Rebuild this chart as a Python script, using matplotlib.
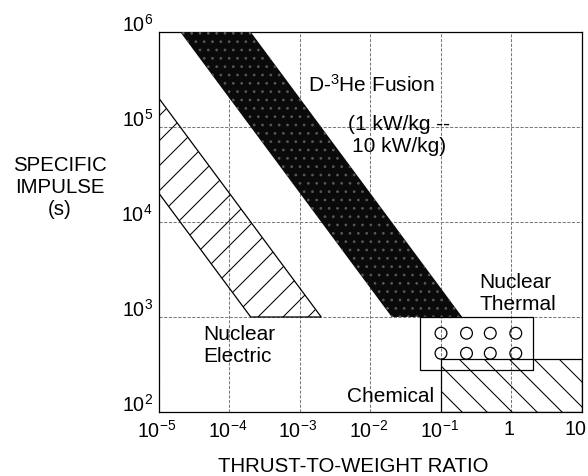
import numpy as np
import matplotlib
matplotlib.use("Agg")
import matplotlib.pyplot as plt
from matplotlib.patches import Polygon, Rectangle
from matplotlib.transforms import ScaledTranslation

# ---------------- data ----------------
x_ticks = [1e-5, 1e-4, 1e-3, 1e-2, 1e-1, 1, 10]
x_tick_labels = [r"$10^{-5}$", r"$10^{-4}$", r"$10^{-3}$", r"$10^{-2}$", r"$10^{-1}$", "1", "10"]
y_ticks = [1e2, 1e3, 1e4, 1e5, 1e6]
y_tick_labels = [r"$10^{2}$", r"$10^{3}$", r"$10^{4}$", r"$10^{5}$", r"$10^{6}$"]

# lines of constant specific power: Isp * (T/W) = const
fusion_const = [20.0, 200.0]        # 1 kW/kg .. 10 kW/kg
fusion_isp = [1e3, 1e6]
electric_const = [0.2, 2.0]
electric_isp_min = 1e3
tw_min = 1e-5

chem_tw = [0.1, 10.0]
chem_isp = [100.0, 365.0]
thermal_tw = [0.05, 2.0]
thermal_isp = [275.0, 1000.0]
thermal_marker_tw = [0.1, 0.23, 0.5, 1.15]
thermal_marker_isp = [675.0, 415.0]

# ---------------- style ----------------
plt.rcParams["font.family"] = ["Liberation Sans", "DejaVu Sans"]
plt.rcParams["mathtext.fontset"] = "custom"
plt.rcParams["mathtext.rm"] = "Liberation Sans"
plt.rcParams["mathtext.it"] = "Liberation Sans:italic"
plt.rcParams["mathtext.bf"] = "Liberation Sans:bold"
plt.rcParams["mathtext.default"] = "regular"
plt.rcParams["hatch.linewidth"] = 0.5

DPI = 150
W, H = 588, 476
fig = plt.figure(figsize=(W / DPI, H / DPI), dpi=DPI)
L, R, T, B = 159, 582, 32, 412
ax = fig.add_axes([L / W, 1 - B / H, (R - L) / W, (B - T) / H])
ax.set_xscale("log")
ax.set_yscale("log")
ax.set_xlim(1e-5, 10)
ax.set_ylim(1e2, 1e6)
ax.minorticks_off()
ax.set_xticks(x_ticks)
ax.set_xticklabels(x_tick_labels, fontsize=9.4)
ax.set_yticks(y_ticks)
ax.set_yticklabels(y_tick_labels, fontsize=9.4)
ax.tick_params(length=0, pad=4)
ax.tick_params(axis="y", pad=3)
# keep the right-most label inside the figure
lbls = ax.get_xticklabels()
for i, lb in enumerate(lbls):
    shift = -6 if i == len(lbls) - 1 else -2
    lb.set_transform(lb.get_transform() + ScaledTranslation(shift / DPI, 0, fig.dpi_scale_trans))
for lb in ax.get_yticklabels():
    lb.set_verticalalignment("baseline")
for s in ax.spines.values():
    s.set_linewidth(0.6)
ax.set_axisbelow(True)
ax.grid(True, which="major", color="#7a7a7a", lw=0.5, ls=(0, (3, 1.5)))

# fusion band
c1, c2 = fusion_const
i_lo, i_hi = fusion_isp
fverts = [(c1 / i_hi, i_hi), (c2 / i_hi, i_hi), (c2 / i_lo, i_lo), (c1 / i_lo, i_lo)]
ax.add_patch(Polygon(fverts, closed=True, facecolor="#0a0a0a", edgecolor="#585858",
                     lw=0, hatch="...", zorder=3))

# nuclear electric band
e1, e2 = electric_const
everts = [(tw_min, e1 / tw_min), (tw_min, e2 / tw_min),
          (e2 / electric_isp_min, electric_isp_min), (e1 / electric_isp_min, electric_isp_min)]
ax.add_patch(Polygon(everts, closed=True, facecolor="none", edgecolor="black",
                     lw=0.6, hatch="//", zorder=3))

# chemical region
ax.add_patch(Rectangle((chem_tw[0], chem_isp[0]), chem_tw[1] - chem_tw[0], chem_isp[1] - chem_isp[0],
                       facecolor="none", edgecolor="black", lw=0.6, hatch="\\\\", zorder=3))

# nuclear thermal box
ax.add_patch(Rectangle((thermal_tw[0], thermal_isp[0]), thermal_tw[1] - thermal_tw[0],
                       thermal_isp[1] - thermal_isp[0], facecolor="none", edgecolor="black",
                       lw=0.6, zorder=4))
mx, my = np.meshgrid(thermal_marker_tw, thermal_marker_isp)
ax.scatter(mx.ravel(), my.ravel(), s=32, facecolors="none", edgecolors="black",
           linewidths=0.6, zorder=5)

# labels
fs = 10
ax.text(1.3e-3, 2.75e5, r"D-$^{3}$He Fusion", fontsize=fs, ha="left", va="center", zorder=6)
ax.text(0.0254, 8.1e4, "(1 kW/kg --\n10 kW/kg)", fontsize=fs, ha="center", va="center",
        multialignment="center", zorder=6)
ax.text(4.2e-5, 500, "Nuclear\nElectric", fontsize=fs, ha="left", va="center", zorder=6)
ax.text(0.346, 1766, "Nuclear\nThermal", fontsize=fs, ha="left", va="center", zorder=6)
ax.text(4.65e-3, 144, "Chemical", fontsize=fs, ha="left", va="center", zorder=6)

fig.text(60 / W, 1 - 188 / H, "SPECIFIC\nIMPULSE\n(s)", fontsize=9.8, ha="center",
         va="center", multialignment="center")
fig.text(353 / W, 1 - 466 / H, "THRUST-TO-WEIGHT RATIO", fontsize=9.8, ha="center", va="center")

fig.savefig("out.png", dpi=DPI, facecolor="white")
